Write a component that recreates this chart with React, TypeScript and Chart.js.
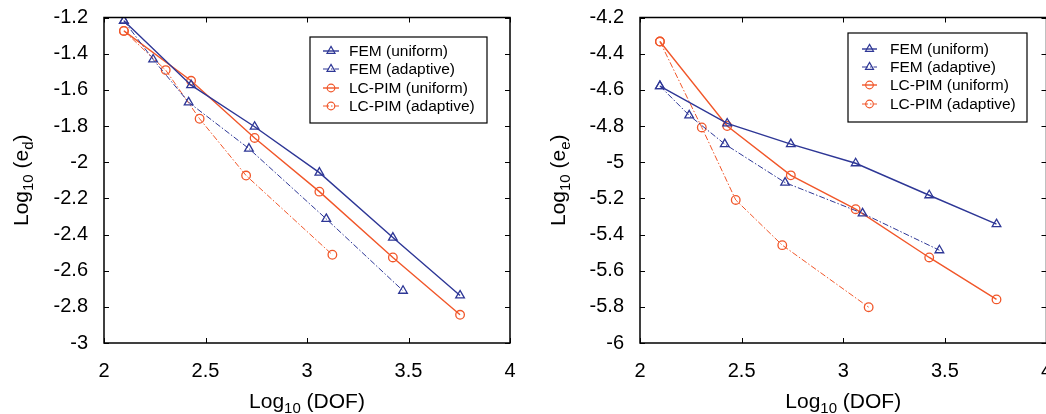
import React, { useEffect, useRef } from "react";
import { Chart, registerables } from "chart.js";

Chart.register(...registerables);

// ---------- data ----------
const dofUniform = [2.098, 2.429, 2.742, 3.061, 3.423, 3.754];
const dofFemAdaptive = [2.098, 2.242, 2.417, 2.714, 3.095, 3.473];
const dofPimAdaptive = [2.098, 2.304, 2.471, 2.7, 3.125];

const edFemUniform = [-1.218, -1.574, -1.804, -2.058, -2.417, -2.737];
const edFemAdaptive = [-1.218, -1.432, -1.669, -1.925, -2.314, -2.711];
const edPimUniform = [-1.274, -1.55, -1.866, -2.163, -2.527, -2.844];
const edPimAdaptive = [-1.274, -1.491, -1.76, -2.074, -2.512];

const eeFemUniform = [-4.579, -4.786, -4.9, -5.006, -5.183, -5.343];
const eeFemAdaptive = [-4.579, -4.741, -4.9, -5.113, -5.283, -5.487];
const eePimUniform = [-4.333, -4.8, -5.073, -5.26, -5.527, -5.759];
const eePimAdaptive = [-4.333, -4.808, -5.209, -5.459, -5.802];

const seriesLabels = ["FEM (uniform)", "FEM (adaptive)", "LC-PIM (uniform)", "LC-PIM (adaptive)"];
const xTickRange = [2, 4];
const xTickStep = 0.5;
const leftYRange = [-3, -1.2];
const rightYRange = [-6, -4.2];
const yTickStep = 0.2;
const xTitle = ["Log", "10", " (DOF)"];
const leftYTitle = ["Log", "10", " (e", "d", ")"];
const rightYTitle = ["Log", "10", " (e", "e", ")"];

// ---------- style ----------
const FONT = "'Liberation Sans', Arial, Helvetica, sans-serif";
const BLUE = "#2E3796";
const ORANGE = "#F1572A";

const zip = (xs: number[], ys: number[]) => xs.map((x, i) => ({ x, y: ys[i] }));

function makeDatasets(femU: number[], femA: number[], pimU: number[], pimA: number[]) {
  const base = {
    showLine: true,
    fill: false,
    tension: 0,
    pointBackgroundColor: "rgba(0,0,0,0)",
  };
  return [
    {
      ...base,
      label: seriesLabels[0],
      data: zip(dofUniform, femU),
      borderColor: BLUE,
      pointBorderColor: BLUE,
      borderWidth: 1.4,
      pointStyle: "triangle",
      pointRadius: 5,
      pointBorderWidth: 1.3,
    },
    {
      ...base,
      label: seriesLabels[1],
      data: zip(dofFemAdaptive, femA),
      borderColor: BLUE,
      pointBorderColor: BLUE,
      borderWidth: 1,
      borderDash: [6, 2, 1.5, 2],
      pointStyle: "triangle",
      pointRadius: 5,
      pointBorderWidth: 1.3,
    },
    {
      ...base,
      label: seriesLabels[2],
      data: zip(dofUniform, pimU),
      borderColor: ORANGE,
      pointBorderColor: ORANGE,
      borderWidth: 1.4,
      pointStyle: "circle",
      pointRadius: 4.3,
      pointBorderWidth: 1.3,
    },
    {
      ...base,
      label: seriesLabels[3],
      data: zip(dofPimAdaptive, pimA),
      borderColor: ORANGE,
      pointBorderColor: ORANGE,
      borderWidth: 1,
      borderDash: [6, 2, 1.5, 2],
      pointStyle: "circle",
      pointRadius: 4.3,
      pointBorderWidth: 1.3,
    },
  ];
}

type PanelCfg = {
  width: number;
  yWidth: number;
  padRight: number;
  yRange: number[];
  yTitle: string[];
  yTitleX: number;
  legend: { left: number; top: number; right: number; bottom: number; rows: number[]; lineX0: number; lineX1: number; textX: number };
  datasets: any[];
};

function drawComposite(ctx: CanvasRenderingContext2D, parts: string[], size: number, cx: number, baseY: number) {
  const big = `${size}px ${FONT}`;
  const small = `${Math.round(size * 0.72)}px ${FONT}`;
  let w = 0;
  parts.forEach((p, i) => {
    ctx.font = i % 2 === 0 ? big : small;
    w += ctx.measureText(p).width;
  });
  let x = cx - w / 2;
  ctx.textAlign = "left";
  ctx.textBaseline = "alphabetic";
  parts.forEach((p, i) => {
    const sub = i % 2 === 1;
    ctx.font = sub ? small : big;
    ctx.fillText(p, x, baseY + (sub ? size * 0.25 : 0));
    x += ctx.measureText(p).width;
  });
}

function framePlugin(cfg: PanelCfg) {
  return {
    id: "frameAndExtras",
    afterDraw(chart: any) {
      const ctx: CanvasRenderingContext2D = chart.ctx;
      const { left, right, top, bottom } = chart.chartArea;
      const xs = chart.scales.x;
      const ys = chart.scales.y;
      ctx.save();
      ctx.strokeStyle = "#000";
      ctx.lineWidth = 1.5;
      ctx.strokeRect(left, top, right - left, bottom - top);
      ctx.lineWidth = 1;
      const tl = 5;
      ctx.beginPath();
      xs.ticks.forEach((t: any) => {
        const px = Math.round(xs.getPixelForValue(t.value)) + 0.5;
        ctx.moveTo(px, bottom);
        ctx.lineTo(px, bottom - tl);
        ctx.moveTo(px, top);
        ctx.lineTo(px, top + tl);
      });
      ys.ticks.forEach((t: any) => {
        const py = Math.round(ys.getPixelForValue(t.value)) + 0.5;
        ctx.moveTo(left, py);
        ctx.lineTo(left + tl, py);
        ctx.moveTo(right, py);
        ctx.lineTo(right - tl, py);
      });
      ctx.stroke();

      // axis titles
      ctx.fillStyle = "#000";
      drawComposite(ctx, xTitle, 21, (left + right) / 2, 408);
      ctx.save();
      ctx.translate(cfg.yTitleX, (top + bottom) / 2);
      ctx.rotate(-Math.PI / 2);
      drawComposite(ctx, cfg.yTitle, 21, 0, 0);
      ctx.restore();

      // legend
      const L = cfg.legend;
      ctx.fillStyle = "#fff";
      ctx.fillRect(L.left, L.top, L.right - L.left, L.bottom - L.top);
      ctx.strokeStyle = "#000";
      ctx.lineWidth = 1.2;
      ctx.strokeRect(L.left, L.top, L.right - L.left, L.bottom - L.top);
      chart.data.datasets.forEach((ds: any, i: number) => {
        const y = L.rows[i];
        ctx.strokeStyle = ds.borderColor;
        ctx.lineWidth = ds.borderWidth;
        ctx.setLineDash(ds.borderDash || []);
        ctx.beginPath();
        ctx.moveTo(L.lineX0, y);
        ctx.lineTo(L.lineX1, y);
        ctx.stroke();
        ctx.setLineDash([]);
        const mx = (L.lineX0 + L.lineX1) / 2;
        ctx.lineWidth = 1.2;
        ctx.beginPath();
        if (ds.pointStyle === "triangle") {
          const r = 4.6;
          ctx.moveTo(mx, y - r);
          ctx.lineTo(mx + r * 0.866, y + r * 0.5);
          ctx.lineTo(mx - r * 0.866, y + r * 0.5);
          ctx.closePath();
        } else {
          ctx.arc(mx, y, 3.8, 0, Math.PI * 2);
        }
        ctx.stroke();
        ctx.fillStyle = "#000";
        ctx.font = `15.5px ${FONT}`;
        ctx.textAlign = "left";
        ctx.textBaseline = "middle";
        ctx.fillText(ds.label, L.textX, y + 1);
      });
      ctx.restore();
    },
  };
}

function Panel({ cfg }: { cfg: PanelCfg }) {
  const ref = useRef<HTMLCanvasElement | null>(null);
  useEffect(() => {
    if (!ref.current) return;
    const tickFont = { family: FONT, size: 20 };
    const chart = new Chart(ref.current, {
      type: "scatter",
      data: { datasets: cfg.datasets },
      options: {
        animation: false,
        responsive: false,
        maintainAspectRatio: false,
        layout: { padding: { left: 0, right: cfg.padRight, top: 17.5, bottom: 0 } },
        plugins: { legend: { display: false }, tooltip: { enabled: false } },
        scales: {
          x: {
            type: "linear",
            min: xTickRange[0],
            max: xTickRange[1],
            grid: { display: false, drawTicks: false },
            border: { display: false },
            ticks: {
              stepSize: xTickStep,
              color: "#000",
              font: tickFont,
              padding: 16,
              maxRotation: 0,
              callback: (v: any) => String(parseFloat(Number(v).toFixed(1))),
            },
            afterFit: (s: any) => {
              s.height = 71;
              s.paddingLeft = 0;
              s.paddingRight = 0;
            },
          },
          y: {
            type: "linear",
            min: cfg.yRange[0],
            max: cfg.yRange[1],
            grid: { display: false, drawTicks: false },
            border: { display: false },
            ticks: {
              stepSize: yTickStep,
              color: "#000",
              font: tickFont,
              padding: 16,
              callback: (v: any) => String(parseFloat(Number(v).toFixed(1))),
            },
            afterFit: (s: any) => {
              s.width = cfg.yWidth;
              s.paddingTop = 0;
              s.paddingBottom = 0;
            },
          },
        },
      } as any,
      plugins: [framePlugin(cfg)],
    } as any);
    return () => chart.destroy();
  }, [cfg]);
  return <canvas ref={ref} width={cfg.width} height={414} style={{ display: "block", width: cfg.width, height: 414 }} />;
}

const leftCfg: PanelCfg = {
  width: 520,
  yWidth: 104,
  padRight: 10,
  yRange: leftYRange,
  yTitle: leftYTitle,
  yTitleX: 28,
  legend: { left: 310, top: 37, right: 487, bottom: 123, rows: [51, 69, 88, 106], lineX0: 323, lineX1: 339, textX: 349 },
  datasets: makeDatasets(edFemUniform, edFemAdaptive, edPimUniform, edPimAdaptive),
};

const rightCfg: PanelCfg = {
  width: 540,
  yWidth: 120,
  padRight: 13.5,
  yRange: rightYRange,
  yTitle: rightYTitle,
  yTitleX: 45,
  legend: { left: 328, top: 33, right: 507, bottom: 122, rows: [49, 67, 85, 104], lineX0: 342, lineX1: 357, textX: 370 },
  datasets: makeDatasets(eeFemUniform, eeFemAdaptive, eePimUniform, eePimAdaptive),
};

export default function App() {
  return (
    <div style={{ position: "fixed", left: 0, top: 0, width: 1046, height: 414, background: "#fff", overflow: "hidden" }}>
      <div style={{ position: "absolute", left: 0, top: 0 }}>
        <Panel cfg={leftCfg} />
      </div>
      <div style={{ position: "absolute", left: 520, top: 0 }}>
        <Panel cfg={rightCfg} />
      </div>
    </div>
  );
}
